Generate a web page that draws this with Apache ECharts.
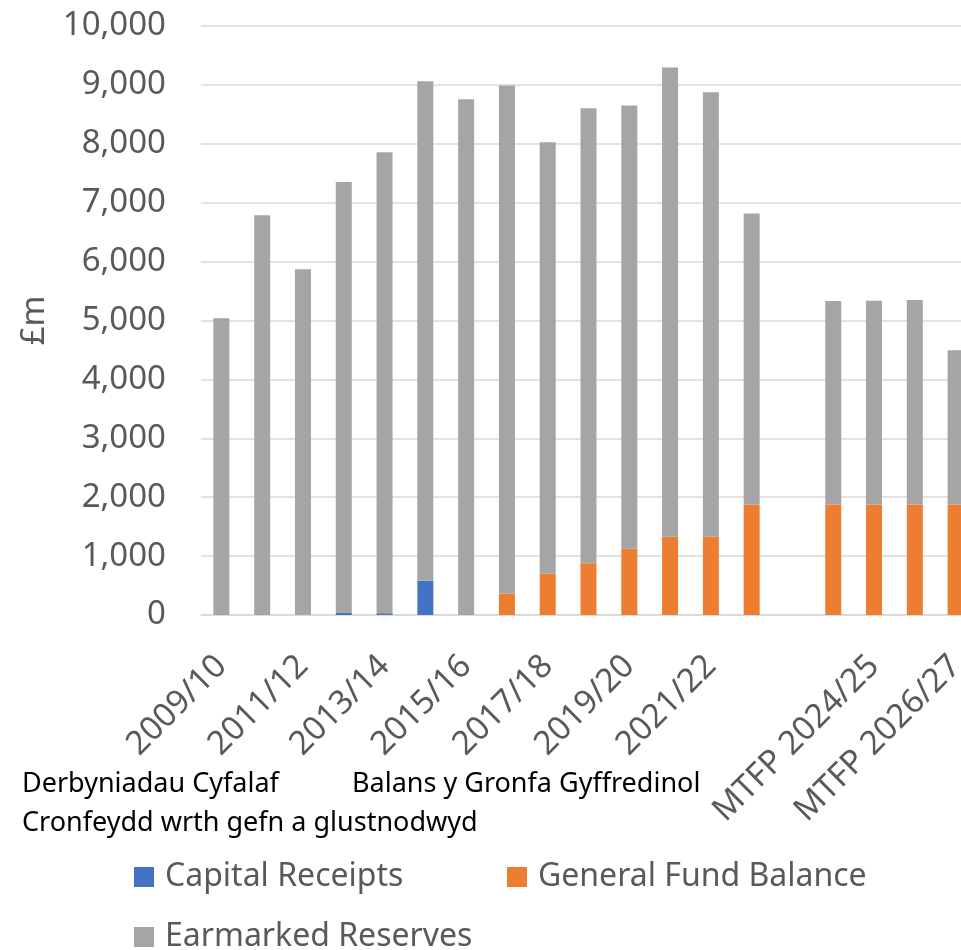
<!DOCTYPE html>
<html>
<head>
<meta charset="utf-8">
<script src="https://cdn.jsdelivr.net/npm/echarts@6/dist/echarts.min.js"></script>
<style>
  html, body { margin: 0; padding: 0; background: #fff; }
  #main { width: 961px; height: 950px; }
</style>
</head>
<body>
<div id="main"></div>
<script>
// categories (index 14 is the blank gap before the MTFP years)
var categories = ['2009/10', '2010/11', '2011/12', '2012/13', '2013/14', '2014/15', '2015/16',
  '2016/17', '2017/18', '2018/19', '2019/20', '2020/21', '2021/22', '2022/23', '',
  'MTFP 2023/24', 'MTFP 2024/25', 'MTFP 2025/26', 'MTFP 2026/27'];

var capitalReceipts = [0, 0, 8, 35, 30, 580, 0, 0, 0, 0, 0, 0, 0, 0, null, 0, 0, 0, 0];
var generalFund = [0, 0, 0, 0, 0, 0, 0, 365, 700, 880, 1125, 1330, 1330, 1875, null, 1875, 1875, 1875, 1875];
var earmarked = [5040, 6785, 5860, 7315, 7825, 8480, 8755, 8625, 7325, 7725, 7525, 7965, 7545, 4940, null, 3455, 3460, 3475, 2620];

var seriesNames = ['Capital Receipts', 'General Fund Balance', 'Earmarked Reserves'];
var welshLabels = ['Derbyniadau Cyfalaf', 'Balans y Gronfa Gyffredinol', 'Cronfeydd wrth gefn a glustnodwyd'];

var font = '"Noto Sans", sans-serif';
var chart = echarts.init(document.getElementById('main'), null, { renderer: 'canvas' });

var option = {
  animation: false,
  color: ['#4472C4', '#ED7D31', '#A5A5A5'],
  grid: {
    left: 201,
    top: 26,
    width: 775,
    bottom: 335,
    containLabel: false,
    outerBoundsMode: 'none'
  },
  xAxis: {
    type: 'category',
    data: categories,
    axisTick: { show: false },
    axisLine: { lineStyle: { color: '#D9D9D9', width: 1.5 } },
    axisLabel: {
      interval: 1,
      rotate: 45,
      margin: 46,
      color: '#595959',
      fontSize: 33,
      fontFamily: font
    }
  },
  yAxis: {
    type: 'value',
    min: 0,
    max: 10000,
    interval: 1000,
    name: '£m',
    nameLocation: 'middle',
    nameGap: 150,
    nameTextStyle: { color: '#595959', fontSize: 33, fontFamily: font },
    axisLine: { show: false },
    axisTick: { show: false },
    splitLine: { lineStyle: { color: '#D9D9D9', width: 1.5 } },
    axisLabel: {
      margin: 35,
      color: '#595959',
      fontSize: 33,
      fontFamily: font,
      formatter: function (v) { return v.toLocaleString('en-US'); }
    }
  },
  legend: {
    data: seriesNames,
    left: 134,
    top: 857,
    width: 760,
    padding: 0,
    itemWidth: 20,
    itemHeight: 20,
    itemGap: 20,
    icon: 'rect',
    textStyle: {
      color: '#595959',
      fontSize: 32,
      fontFamily: font,
      lineHeight: 40,
      width: 322,
      padding: [0, 0, 0, 6]
    }
  },
  graphic: [
    { type: 'text', left: 22, top: 771, style: { text: welshLabels[0], fill: '#000', font: '27px "Noto Sans", sans-serif' } },
    { type: 'text', left: 352, top: 771, style: { text: welshLabels[1], fill: '#000', font: '27px "Noto Sans", sans-serif' } },
    { type: 'text', left: 22, top: 810, style: { text: welshLabels[2], fill: '#000', font: '27px "Noto Sans", sans-serif' } }
  ],
  series: [
    { name: seriesNames[0], type: 'bar', stack: 'total', barWidth: 16, data: capitalReceipts },
    { name: seriesNames[1], type: 'bar', stack: 'total', barWidth: 16, data: generalFund },
    { name: seriesNames[2], type: 'bar', stack: 'total', barWidth: 16, data: earmarked }
  ]
};
chart.setOption(option);
</script>
</body>
</html>
